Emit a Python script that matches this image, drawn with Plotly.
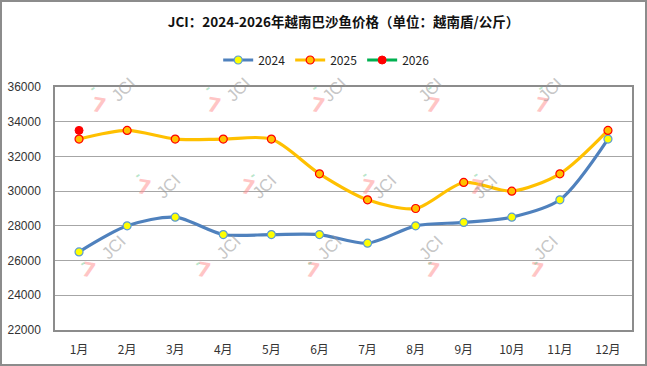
import plotly.graph_objects as go

months = ["1月", "2月", "3月", "4月", "5月", "6月", "7月", "8月", "9月", "10月", "11月", "12月"]
price_2024 = [26500, 28000, 28500, 27500, 27500, 27500, 27000, 28000, 28200, 28500, 29500, 33000]
price_2025 = [33000, 33500, 33000, 33000, 33000, 31000, 29500, 29000, 30500, 30000, 31000, 33500]
price_2026 = [33500]
y_ticks = [22000, 24000, 26000, 28000, 30000, 32000, 34000, 36000]

W, H = 647, 366
ML, MR, MT, MB = 55, 15, 87, 36
PW, PH = W - ML - MR, H - MT - MB

fig = go.Figure()
fig.add_trace(go.Scatter(
    x=months, y=price_2024, name="2024", mode="lines+markers",
    line=dict(color="#4F81BD", width=3.2, shape="spline", smoothing=0.8),
    marker=dict(size=8, color="#FFFF00", line=dict(color="#5B9BD5", width=1.2)),
))
fig.add_trace(go.Scatter(
    x=months, y=price_2025, name="2025", mode="lines+markers",
    line=dict(color="#FFC000", width=3.2, shape="spline", smoothing=0.8),
    marker=dict(size=8, color="#FFC000", line=dict(color="#FF0000", width=1.2)),
))
fig.add_trace(go.Scatter(
    x=months[:len(price_2026)], y=price_2026, name="2026", mode="lines+markers",
    line=dict(color="#00B050", width=3.2),
    marker=dict(size=8, color="#FF0000", line=dict(color="#FF0000", width=1)),
))

# watermarks (decoration, pixel-based placement)
wm_pos = [(95, 80), (210, 80), (325, 80), (440, 80), (560, 80),
          (140, 177), (255, 177), (375, 177), (495, 177),
          (85, 275), (200, 275), (320, 275), (440, 275), (555, 275)]


def px2paper(px, py):
    return (px - ML) / PW, 1 - (py - MT) / PH


annotations = []
for (px, py) in wm_pos:
    x, y = px2paper(px - 7, py + 10)
    annotations.append(dict(
        x=x, y=y, xref="paper", yref="paper", showarrow=False, text="<b>7</b>", textangle=10,
        font=dict(size=20, family="DejaVu Sans", color="rgba(255,140,140,0.5)"),
    ))
    x, y = px2paper(px - 11, py - 2)
    annotations.append(dict(
        x=x, y=y, xref="paper", yref="paper", showarrow=False, text="<b>-</b>", textangle=-35,
        font=dict(size=12, family="DejaVu Sans", color="rgba(100,200,140,0.45)"),
    ))
    x, y = px2paper(px + 10, py - 9)
    annotations.append(dict(
        x=x, y=y, xref="paper", yref="paper", showarrow=False, text="JCI", textangle=-45,
        font=dict(size=17, family="Arial", color="rgba(150,150,150,0.55)"),
    ))

fig.update_layout(
    width=W, height=H,
    margin=dict(l=ML, r=MR, t=MT, b=MB, autoexpand=False),
    paper_bgcolor="white", plot_bgcolor="white",
    title=dict(text="<b>JCI：2024-2026年越南巴沙鱼价格（单位：越南盾/公斤）</b>",
               x=0.5, xref="paper", xanchor="center", y=1 - 22 / H, yanchor="middle",
               font=dict(size=13.5, color="#111", family="Noto Sans CJK SC")),
    legend=dict(orientation="h", x=0.47, xanchor="center", y=1 + 27 / PH, yanchor="middle",
                font=dict(size=12, color="#222", family="Noto Sans CJK SC"),
                bgcolor="rgba(0,0,0,0)", tracegroupgap=0),
    showlegend=True,
    annotations=annotations,
    font=dict(family="Noto Sans CJK SC", size=12, color="#333"),
    shapes=[dict(type="rect", xref="paper", yref="paper",
                 x0=-(ML - 1) / PW, x1=1 + (MR - 1) / PW,
                 y0=-(MB - 1) / PH, y1=1 + (MT - 1) / PH,
                 line=dict(color="#8c8c8c", width=2), layer="below")],
)
fig.update_xaxes(type="category", categoryorder="array", categoryarray=months,
                 range=[-0.5, 11.5], showgrid=False, showline=True, mirror=True,
                 linecolor="#8c8c8c", linewidth=1.5, ticks="", ticklabelstandoff=8,
                 tickfont=dict(size=12, color="#333"), fixedrange=True)
fig.update_yaxes(range=[22000, 36000], tickvals=y_ticks, tickformat="d", showgrid=True,
                 gridcolor="#a6a6a6", gridwidth=1.2, showline=True, mirror=True,
                 linecolor="#8c8c8c", linewidth=1.5, ticks="", zeroline=False, ticklabelstandoff=10,
                 tickfont=dict(size=12, family="Liberation Sans", color="#333"), fixedrange=True)

fig.write_html("out.html", config={"displayModeBar": False},
               post_script="document.body.style.margin='0';document.body.style.overflow='hidden';")
